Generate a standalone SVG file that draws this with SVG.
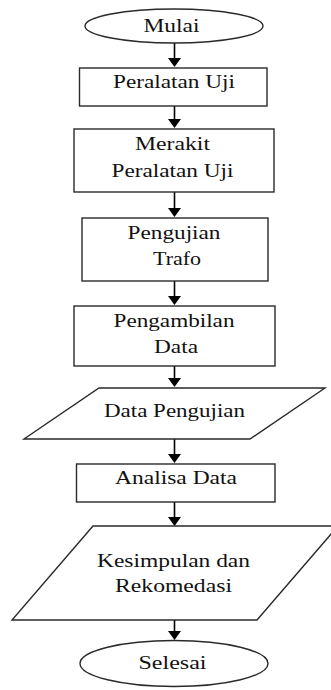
<svg xmlns="http://www.w3.org/2000/svg" width="331" height="690" viewBox="0 0 331 690">
<defs>
<style>
.s{fill:#fff;stroke:#2a2a2a;stroke-width:1.4}
.t{font-family:"Liberation Serif","Times New Roman",serif;font-size:18.5px;fill:#111;text-anchor:middle}
.c{stroke:#000;stroke-width:1.6;fill:none}
.h{fill:#000}
</style>
</defs>
<rect width="331" height="690" fill="#fff"/>
<g id="connectors">
<path class="c" d="M174.5,43 V58"/><path class="h" d="M168,58 h13 l-6.5,9 z"/>
<path class="c" d="M174.5,106 V119"/><path class="h" d="M168,119 h13 l-6.5,9 z"/>
<path class="c" d="M174.5,192 V208"/><path class="h" d="M168,208 h13 l-6.5,9 z"/>
<path class="c" d="M174.5,281 V296"/><path class="h" d="M168,296 h13 l-6.5,9 z"/>
<path class="c" d="M174.5,366 V378"/><path class="h" d="M168,378 h13 l-6.5,9 z"/>
<path class="c" d="M174.5,439 V454"/><path class="h" d="M168,454 h13 l-6.5,9 z"/>
<path class="c" d="M174.5,502 V517"/><path class="h" d="M168,517 h13 l-6.5,9 z"/>
<path class="c" d="M174.5,620 V631"/><path class="h" d="M168,631 h13 l-6.5,9 z"/>
</g>
<g id="mulai">
<ellipse class="s" cx="174" cy="26" rx="89" ry="17"/>
<text class="t" x="171.5" y="32" textLength="56" lengthAdjust="spacingAndGlyphs">Mulai</text>
</g>
<g id="peralatan-uji">
<rect class="s" x="79.5" y="68" width="187.5" height="38"/>
<text class="t" x="174" y="87.5" textLength="122" lengthAdjust="spacingAndGlyphs">Peralatan Uji</text>
</g>
<g id="merakit">
<rect class="s" x="74" y="129" width="200" height="63"/>
<text class="t" x="172.5" y="150" textLength="75" lengthAdjust="spacingAndGlyphs">Merakit</text>
<text class="t" x="172.5" y="177" textLength="122" lengthAdjust="spacingAndGlyphs">Peralatan Uji</text>
</g>
<g id="pengujian">
<rect class="s" x="82" y="218" width="186" height="63"/>
<text class="t" x="174" y="239" textLength="93" lengthAdjust="spacingAndGlyphs">Pengujian</text>
<text class="t" x="177" y="265" textLength="48" lengthAdjust="spacingAndGlyphs">Trafo</text>
</g>
<g id="pengambilan">
<rect class="s" x="74" y="306" width="201" height="60"/>
<text class="t" x="174" y="326.5" textLength="121" lengthAdjust="spacingAndGlyphs">Pengambilan</text>
<text class="t" x="176" y="353" textLength="44" lengthAdjust="spacingAndGlyphs">Data</text>
</g>
<g id="data-pengujian">
<polygon class="s" points="99,388 325,388 250,439 24,439"/>
<text class="t" x="174.5" y="417" textLength="141" lengthAdjust="spacingAndGlyphs">Data Pengujian</text>
</g>
<g id="analisa">
<rect class="s" x="76.5" y="464" width="198.5" height="38"/>
<text class="t" x="176" y="484" textLength="122" lengthAdjust="spacingAndGlyphs">Analisa Data</text>
</g>
<g id="kesimpulan">
<polygon class="s" points="93,526 338,526 257,620 12,620"/>
<text class="t" x="173.5" y="567" textLength="153" lengthAdjust="spacingAndGlyphs">Kesimpulan dan</text>
<text class="t" x="173.5" y="592" textLength="117" lengthAdjust="spacingAndGlyphs">Rekomedasi</text>
</g>
<g id="selesai">
<ellipse class="s" cx="174" cy="663.5" rx="94" ry="23"/>
<text class="t" x="172.5" y="668.5" textLength="68" lengthAdjust="spacingAndGlyphs">Selesai</text>
</g>
</svg>
